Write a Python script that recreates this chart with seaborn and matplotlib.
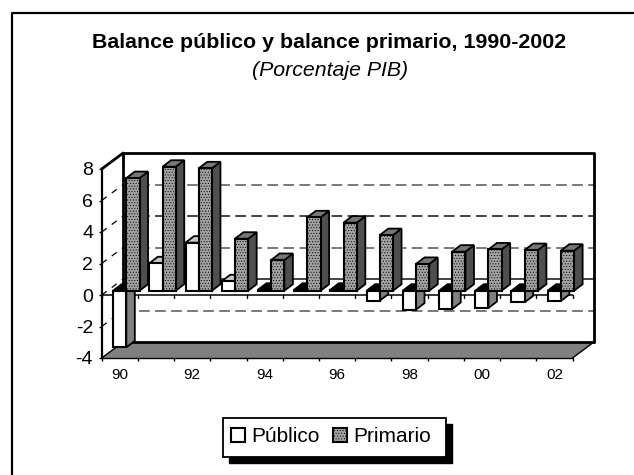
import matplotlib
matplotlib.use("Agg")
import matplotlib.pyplot as plt
from matplotlib.patches import Polygon, Rectangle
from matplotlib.lines import Line2D
from matplotlib.transforms import Affine2D
import pandas as pd
import seaborn as sns

years = ["90", "91", "92", "93", "94", "95", "96", "97", "98", "99", "00", "01", "02"]
publico = [-3.6, 1.74, 3.05, 0.6, 0.06, 0.06, 0.06, -0.63, -1.2, -1.16, -1.1, -0.74, -0.65]
primario = [7.15, 7.87, 7.77, 3.3, 1.95, 4.66, 4.32, 3.53, 1.7, 2.48, 2.62, 2.58, 2.54]
series_names = ["Público", "Primario"]
y_ticks = [-4, -2, 0, 2, 4, 6, 8]
x_labels = ["90", "", "92", "", "94", "", "96", "", "98", "", "00", "", "02"]
title = "Balance público y balance primario, 1990-2002"
subtitle = "(Porcentaje PIB)"

W, H = 634, 475
sns.set_theme(style="white", rc={"hatch.linewidth": 0.4, "axes.unicode_minus": False})
plt.rcParams["font.family"] = ["Liberation Sans", "DejaVu Sans"]
fig = plt.figure(figsize=(W / 100, H / 100), dpi=100, facecolor="white")

# pixel geometry of the pseudo 3-D box
L, R, B, T = 101.7, 572.5, 358.0, 169.0
DX, DY = 21.5, 16.0       # front plane -> back wall
BX, BY = 6.5, 4.3         # front plane -> front face of the bars
DEPTH_X, DEPTH_Y = 8.5, 6.5   # bar depth
PRIM_FACE = "#a2a2a2"


def axes_rect(sx=0.0, sy=0.0):
    return [(L + sx) / W, 1 - (B - sy) / H, (R - L) / W, (B - T) / H]


ax = fig.add_axes(axes_rect(), zorder=1, facecolor="none")   # front plane: ticks and labels
ax.set_xlim(-0.5, 12.5)
ax.set_ylim(-4, 8)

bx = fig.add_axes(axes_rect(BX, BY), zorder=3, facecolor="none")  # bars
df = pd.DataFrame({
    "year": years * 2,
    "value": publico + primario,
    "serie": [series_names[0]] * len(years) + [series_names[1]] * len(years),
})
sns.barplot(data=df, x="year", y="value", hue="serie", order=years, hue_order=series_names,
            palette=["white", PRIM_FACE], width=0.73, gap=0, saturation=1, dodge=True,
            edgecolor="black", linewidth=1.5, legend=False, ax=bx, zorder=4)
bx.set_xlim(-0.5, 12.5)
bx.set_ylim(-4, 8)
bx.axis("off")

back = ax.transData + Affine2D().translate(DX, DY)
front = ax.transData
lw_box = 2.0

# back wall
ax.add_patch(Rectangle((-0.5, -4), 13, 12, transform=back, fc="white", ec="none", zorder=0, clip_on=False))
for v in y_ticks[1:-1]:
    solid = v == 0
    ax.plot([-0.5, 12.5], [v, v], transform=back, color="#111111" if solid or v == 4 else "#555555",
            lw=1.1, ls="-" if solid else (0, (7, 3.5)), zorder=0.5, clip_on=False)
    # continuation on the left wall
    p0 = front.transform((-0.5, v))
    p1 = back.transform((-0.5, v))
    ax.add_line(Line2D([p0[0], p1[0]], [p0[1], p1[1]], transform=None, color="black", lw=0.9,
                       ls=(0, (5, 5)), zorder=0.6, clip_on=False))
ax.plot([-0.5, 12.5, 12.5], [8, 8, -4], transform=back, color="black", lw=lw_box, zorder=0.7, clip_on=False)
ax.plot([-0.5, -0.5], [8, -4], transform=back, color="black", lw=lw_box, zorder=0.7, clip_on=False)

# floor
corners = [front.transform((-0.5, -4)), front.transform((12.5, -4)),
           back.transform((12.5, -4)), back.transform((-0.5, -4))]
ax.add_patch(Polygon(corners, closed=True, transform=None, fc="#808080", ec="none", zorder=0.8, clip_on=False))
ax.plot([-0.5, 12.5], [-4, -4], transform=back, color="black", lw=lw_box, zorder=0.9, clip_on=False)

# left wall edges
for v in (8, -4):
    p0 = front.transform((-0.5, v))
    p1 = back.transform((-0.5, v))
    ax.add_line(Line2D([p0[0], p1[0]], [p0[1], p1[1]], transform=None, color="black",
                       lw=lw_box if v == 8 else 1.0, zorder=1, clip_on=False))
p0 = front.transform((12.5, -4))
p1 = back.transform((12.5, -4))
ax.add_line(Line2D([p0[0], p1[0]], [p0[1], p1[1]], transform=None, color="black", lw=1.0, zorder=1, clip_on=False))

# axis lines, ticks, labels
for s in ("top", "right", "bottom"):
    ax.spines[s].set_visible(False)
ax.spines["left"].set(color="black", lw=1.6)
ax.set_yticks(y_ticks)
ax.set_xticks([i - 0.5 for i in range(14)], minor=False)
ax.set_xticklabels([])
ax.tick_params(axis="y", left=True, length=2.2, width=1, labelsize=14, pad=4, color="black", labelcolor="black")
ax.tick_params(axis="x", bottom=True, length=2.4, width=1, color="black")
ax.plot([-0.5, 12.5], [-4, -4], color="black", lw=1.0, zorder=2, clip_on=False)
for i, lab in enumerate(x_labels):
    ax.annotate(lab, (i, -4), xytext=(0, -7), textcoords="offset points", ha="center", va="top",
                fontsize=11, color="black", annotation_clip=False)

# zero plane line on the front
ax.axhline(0, color="black", lw=1.1, zorder=2)
for i in range(14):
    ax.plot([i - 0.5, i - 0.5], [0, -0.2], color="black", lw=1, zorder=2, clip_on=False)

# depth faces of the bars, built from the same values
bar_tr = bx.transData
containers = list(bx.containers)
side_cols = ["#808080", "#4f4f4f"]
top_cols = ["#c8c8c8", "#777777"]
for k, cont in enumerate(containers):
    for bar in cont:
        x0, x1 = bar.get_x(), bar.get_x() + bar.get_width()
        h = bar.get_height()
        y_top, y_bot = max(h, 0), min(h, 0)
        if k == 1:
            bar.set_hatch("......")
        a = bar_tr.transform((x1, y_bot))
        b = bar_tr.transform((x1, y_top))
        c = bar_tr.transform((x0, y_top))
        side = [a, b, (b[0] + DEPTH_X, b[1] + DEPTH_Y), (a[0] + DEPTH_X, a[1] + DEPTH_Y)]
        top = [c, b, (b[0] + DEPTH_X, b[1] + DEPTH_Y), (c[0] + DEPTH_X, c[1] + DEPTH_Y)]
        tcol = "black" if (k == 0 and h < 0.2) else top_cols[k]
        z = 3.2 if k == 0 else 3.6
        for pts, col in ((side, side_cols[k]), (top, tcol)):
            bx.add_patch(Polygon(pts, closed=True, transform=None, fc=col, ec="black", lw=1.3,
                                 zorder=z, clip_on=False))

# outer frame (left and top only; right and bottom fall outside the image)
fig.add_artist(Line2D([11.5 / W, 11.5 / W, 1.0], [0, 1 - 12.5 / H, 1 - 12.5 / H], color="black", lw=1.6))

# titles
fig.text(329 / W, 1 - 48 / H, title, ha="center", va="baseline", fontsize=15.4, fontweight="bold", color="black")
fig.text(330 / W, 1 - 76 / H, subtitle, ha="center", va="baseline", fontsize=15.3, style="italic", color="black")

# legend with a solid shadow
fig.add_artist(Rectangle((229 / W, 1 - 463 / H), 223 / W, 39 / H, transform=fig.transFigure,
                         fc="black", ec="black", zorder=5))
fig.add_artist(Rectangle((223.5 / W, 1 - 457 / H), 222.5 / W, 39 / H, transform=fig.transFigure,
                         fc="white", ec="black", lw=1.3, zorder=6))
handles = [Rectangle((0, 0), 1, 1, fc="white", ec="black", lw=1.5),
           Rectangle((0, 0), 1, 1, fc=PRIM_FACE, ec="black", lw=1.5, hatch="......")]
leg = fig.legend(handles, series_names, loc="center", bbox_to_anchor=(331 / W, 1 - 436.5 / H),
                 ncol=2, frameon=False, fontsize=15, handlelength=0.67, handleheight=0.67,
                 handletextpad=0.3, columnspacing=0.6, labelcolor="black")
leg.set_zorder(7)

fig.savefig("out.png", dpi=100, facecolor="white")
